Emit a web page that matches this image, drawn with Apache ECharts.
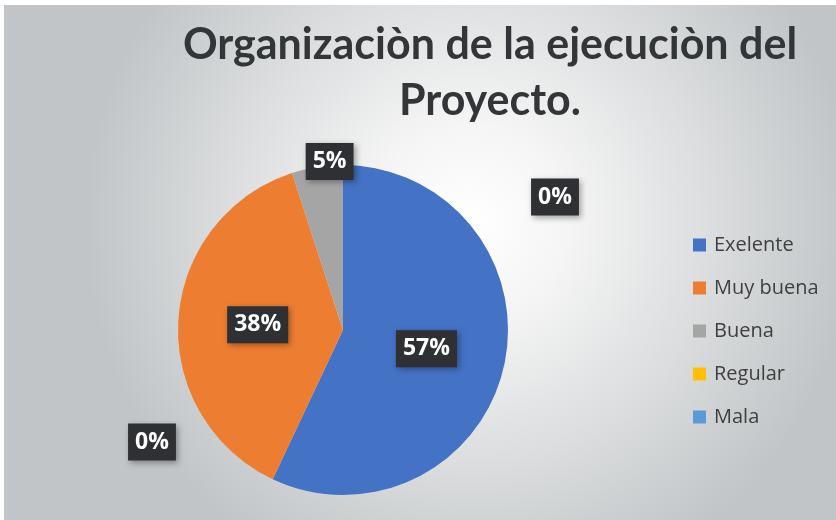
<!DOCTYPE html>
<html>
<head>
<meta charset="utf-8">
<script src="https://cdn.jsdelivr.net/npm/echarts@6/dist/echarts.min.js"></script>
<style>
    html, body { margin: 0; padding: 0; background: #fff; }
    #main { position: absolute; left: 4px; top: 5px; width: 832px; height: 515px; }
</style>
</head>
<body>
<div id="main"></div>
<script>
var categorias = ["Exelente", "Muy buena", "Buena", "Regular", "Mala"];
var porcentajes = [57, 38, 5, 0, 0];
var colores = ["#4472C4", "#ED7D31", "#A5A5A5", "#FFC000", "#5B9BD5"];
var titulo = "Organizaciòn de la ejecuciòn del\nProyecto.";

function chartShow() {
    var n = echarts.init(document.getElementById("main"));
    var datos = [];
    for (var i = 0; i < categorias.length; i++) {
        datos.push({ name: categorias[i], value: porcentajes[i], itemStyle: { color: colores[i] } });
    }
    n.setOption({
        backgroundColor: {
            type: "radial", x: 0.56, y: 0.42, r: 0.75,
            colorStops: [{ offset: 0, color: "#ffffff" }, { offset: 0.25, color: "#f5f5f5" }, { offset: 1, color: "#c1c5c7" }]
        },
        title: {
            text: titulo, left: 481, top: 7, textAlign: "center",
            textStyle: { color: "#333638", fontSize: 43, fontWeight: "bold", fontFamily: "Lato", lineHeight: 56 }
        },
        legend: {
            orient: "vertical", left: 684, top: 225, itemGap: 23,
            itemWidth: 13, itemHeight: 13, icon: "rect",
            textStyle: { color: "#404040", fontSize: 20, fontFamily: "Open Sans", padding: [0, 0, 0, 3] },
            data: categorias
        },
        series: [{
            type: "pie",
            center: [339, 325],
            radius: 165,
            startAngle: 90,
            clockwise: true,
            minShowLabelAngle: -1,
            avoidLabelOverlap: false,
            label: {
                show: true, position: "inside",
                formatter: "{c}%",
                color: "#fff", fontSize: 23, fontWeight: "bold", fontFamily: "Open Sans",
                backgroundColor: "#2e3033", padding: [8, 7, 6, 7],
                shadowColor: "rgba(0,0,0,0.35)", shadowBlur: 6, shadowOffsetX: 2, shadowOffsetY: 2
            },
            labelLine: { show: false },
            labelLayout: function (p) {
                // posiciones de las etiquetas como en la grafica original
                if (p.dataIndex === 2) return { dy: -84 };
                if (p.dataIndex === 3) return { x: 551, y: 192, align: "center", verticalAlign: "middle" };
                if (p.dataIndex === 4) return { x: 148, y: 437, align: "center", verticalAlign: "middle" };
                return {};
            },
            emphasis: { disabled: true },
            data: datos
        }]
    });
}
chartShow();
</script>
</body>
</html>
